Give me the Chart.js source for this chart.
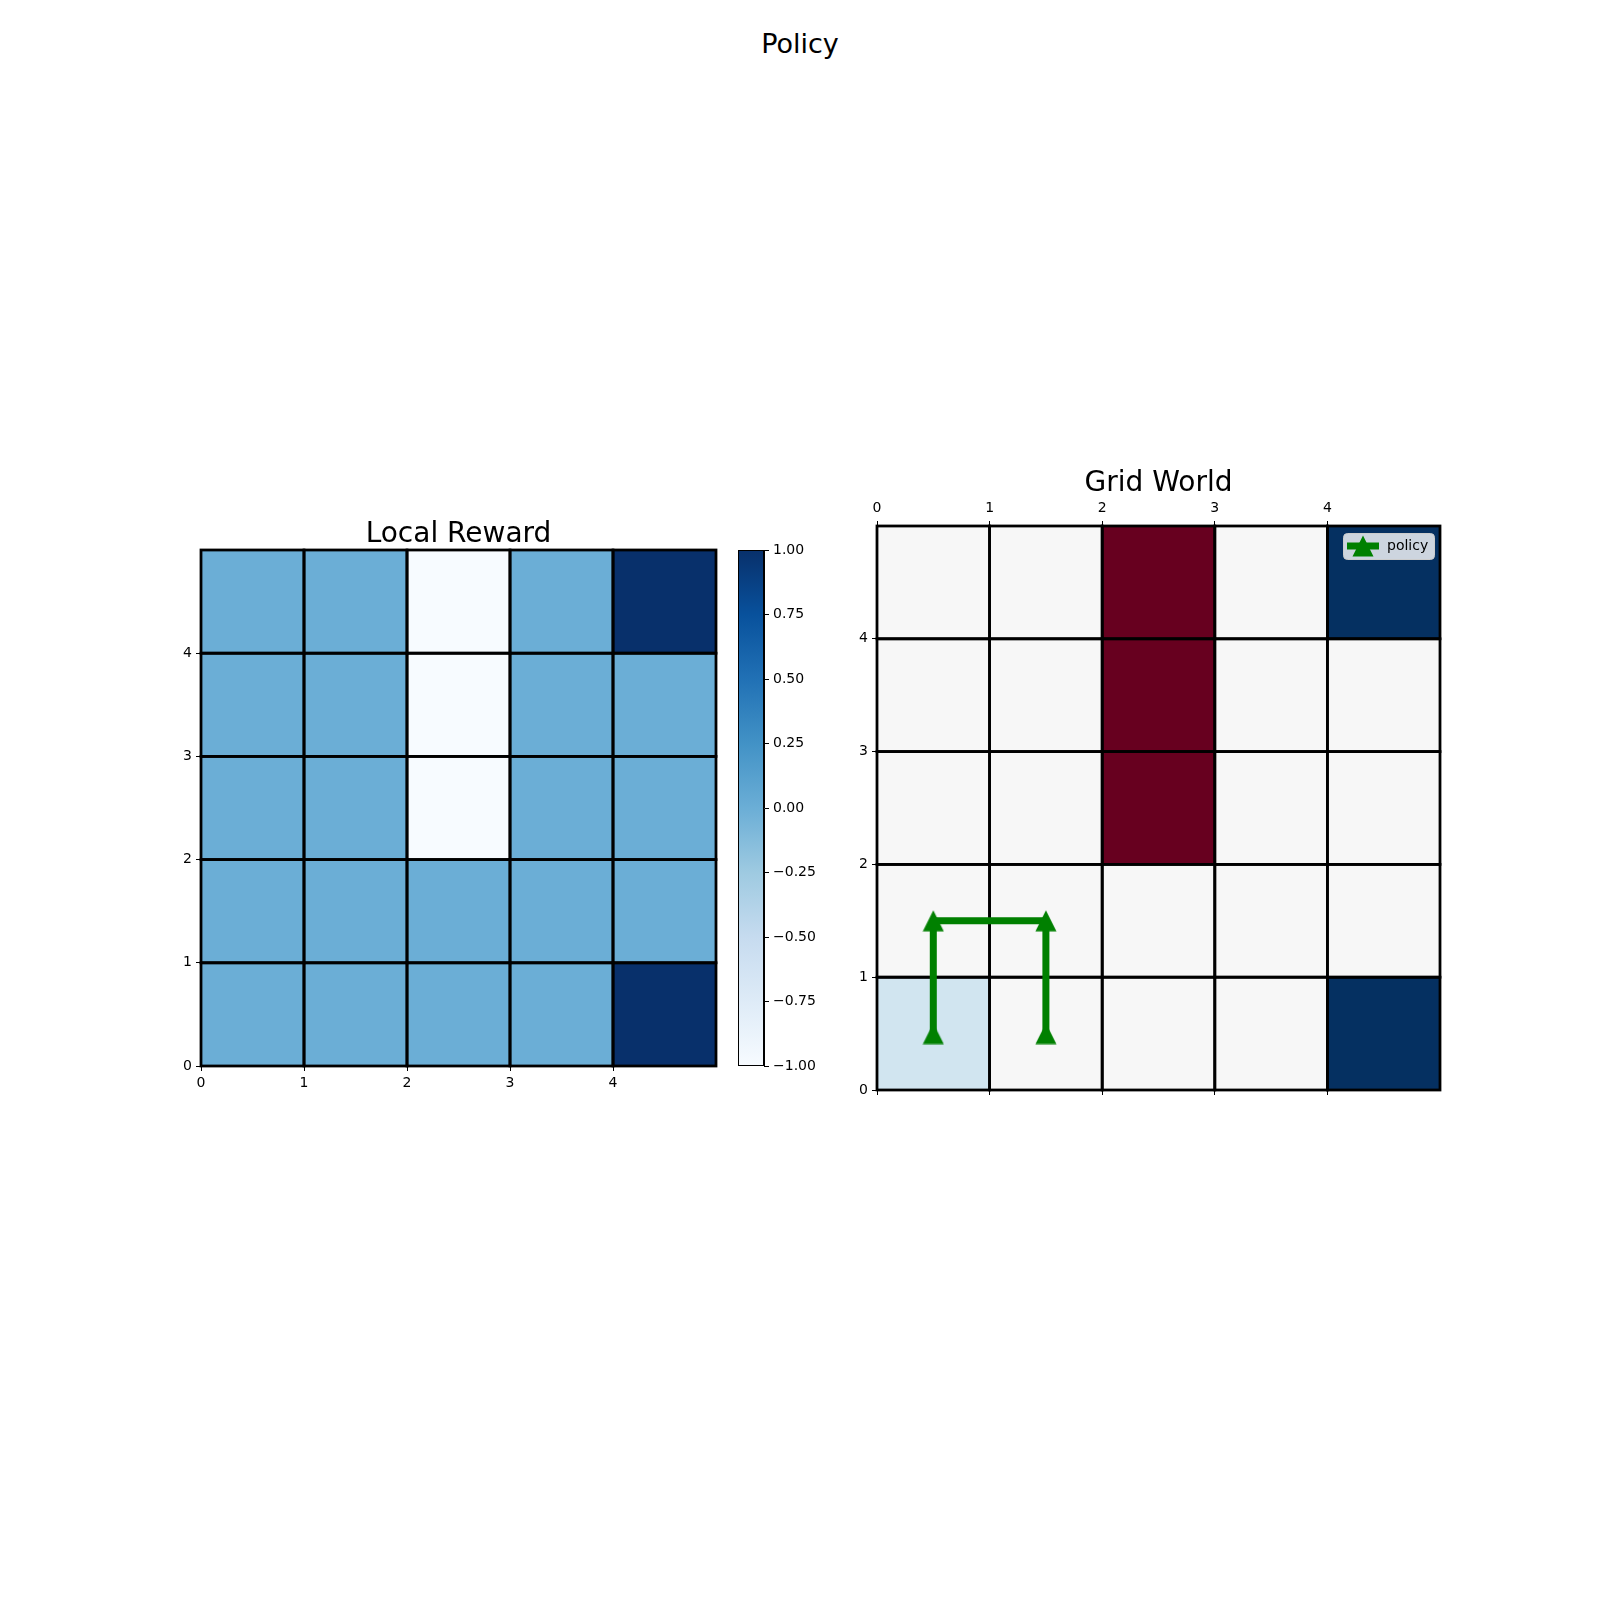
<!DOCTYPE html>
<html><head><meta charset="utf-8">
<script src="https://cdn.jsdelivr.net/npm/chart.js@4"></script>
<style>
html,body{margin:0;padding:0;background:#fff;}
#wrap{position:relative;width:1600px;height:1600px;overflow:hidden;background:#fff;}
canvas{position:absolute;left:0;top:0;}
#suptitle{position:absolute;left:0;top:30px;width:1600px;height:28px;line-height:28px;text-align:center;font-family:'DejaVu Sans';font-size:27px;color:#000;}
</style></head><body>
<div id="wrap">
<div id="suptitle">Policy</div>
<canvas id="c1" width="1600" height="1600"></canvas>
<canvas id="c2" width="1600" height="1600"></canvas>
<canvas id="c3" width="1600" height="1600"></canvas>
</div>
<script>
// ---- data ----
const cellCols = [0, 1, 2, 3, 4];
const cellRows = [0, 1, 2, 3, 4];           // row 0 = bottom
const localReward = [                       // localReward[row][col]
  [0, 0, 0, 0, 1],
  [0, 0, 0, 0, 0],
  [0, 0, -1, 0, 0],
  [0, 0, -1, 0, 0],
  [0, 0, -1, 0, 1]
];
const gridWorld = [                         // gridWorld[row][col]
  [0.2, 0, 0, 0, 1],
  [0, 0, 0, 0, 0],
  [0, 0, -1, 0, 0],
  [0, 0, -1, 0, 0],
  [0, 0, -1, 0, 1]
];
const policyX = [0.5, 0.5, 1.5, 1.5];
const policyY = [0.5, 1.5, 1.5, 0.5];
const policyLabel = 'policy';
const gridTicks = [0, 1, 2, 3, 4];
const colorbarTicks = [-1, -0.75, -0.5, -0.25, 0, 0.25, 0.5, 0.75, 1];
const valueMin = -1, valueMax = 1;

// ---- colormaps ----
const BLUES = ['#f7fbff','#deebf7','#c6dbef','#9ecae1','#6baed6','#4292c6','#2171b5','#08519c','#08306b'];
const RDBU = ['#67001f','#b2182b','#d6604d','#f4a582','#fddbc7','#f7f7f7','#d1e5f0','#92c5de','#4393c3','#2166ac','#053061'];
function hex2rgb(h){return [parseInt(h.slice(1,3),16),parseInt(h.slice(3,5),16),parseInt(h.slice(5,7),16)];}
function cmap(stops, v){
  let t = (v - valueMin) / (valueMax - valueMin);
  t = Math.max(0, Math.min(1, t));
  const n = stops.length - 1;
  const i = Math.min(n - 1, Math.floor(t * n));
  const f = t * n - i;
  const a = hex2rgb(stops[i]), b = hex2rgb(stops[i+1]);
  const c = a.map((x,k)=>Math.round(x + (b[k]-x)*f));
  return 'rgb(' + c.join(',') + ')';
}

Chart.defaults.font.family = 'DejaVu Sans';
Chart.defaults.font.size = 14;
Chart.defaults.color = '#000';

function heatmapPlugin(values, stops){
  return {
    id: 'heatmap',
    beforeDatasetsDraw(chart){
      const ctx = chart.ctx, xs = chart.scales.x, ys = chart.scales.y;
      ctx.save();
      cellRows.forEach((r, ri) => {
        cellCols.forEach((c, ci) => {
          const x0 = xs.getPixelForValue(c), x1 = xs.getPixelForValue(c + 1);
          const y0 = ys.getPixelForValue(r + 1), y1 = ys.getPixelForValue(r);
          ctx.fillStyle = cmap(stops, values[ri][ci]);
          ctx.fillRect(x0, y0, x1 - x0, y1 - y0);
        });
      });
      ctx.strokeStyle = '#000';
      ctx.lineWidth = 2.78;
      cellRows.forEach((r) => {
        cellCols.forEach((c) => {
          const x0 = xs.getPixelForValue(c), x1 = xs.getPixelForValue(c + 1);
          const y0 = ys.getPixelForValue(r + 1), y1 = ys.getPixelForValue(r);
          ctx.strokeRect(x0, y0, x1 - x0, y1 - y0);
        });
      });
      ctx.restore();
    }
  };
}

function gridAxis(position, size, showLabels){
  const horizontal = position === 'top' || position === 'bottom';
  return {
    type: 'linear', position: position, min: 0, max: 5,
    afterBuildTicks: s => { s.ticks = gridTicks.map(v => ({value: v})); },
    afterFit: s => { if (horizontal) s.height = size; else s.width = size; },
    grid: {drawOnChartArea: false, color: '#000', tickLength: 5, lineWidth: 1},
    border: {color: '#000', width: 1},
    ticks: {color: '#000', padding: 4, maxRotation: 0, autoSkip: false,
            callback: v => showLabels ? String(v) : ''}
  };
}

const baseOpts = {responsive: false, animation: false, devicePixelRatio: 1, events: []};

// ---- left: Local Reward ----
new Chart(document.getElementById('c1'), {
  type: 'scatter',
  data: {datasets: [{data: []}]},
  options: Object.assign({}, baseOpts, {
    layout: {padding: {left: 171, right: 884, top: 521, bottom: 504}},
    plugins: {
      legend: {display: false}, tooltip: {enabled: false},
      title: {display: true, text: 'Local Reward', fullSize: false, color: '#000',
              font: {size: 28, lineHeight: 1, weight: 'normal'}, padding: {top: 0, bottom: 1}}
    },
    scales: {x: gridAxis('bottom', 30, true), y: gridAxis('left', 30, true)}
  }),
  plugins: [heatmapPlugin(localReward, BLUES)]
});

// ---- colorbar ----
new Chart(document.getElementById('c2'), {
  type: 'scatter',
  data: {datasets: [{data: []}]},
  options: Object.assign({}, baseOpts, {
    layout: {padding: {left: 738, right: 756, top: 550, bottom: 534}},
    plugins: {legend: {display: false}, tooltip: {enabled: false}},
    scales: {
      x: {display: false, min: 0, max: 1},
      y: {type: 'linear', position: 'right', min: valueMin, max: valueMax,
          afterBuildTicks: s => { s.ticks = colorbarTicks.map(v => ({value: v})); },
          afterFit: s => { s.width = 80; },
          grid: {drawOnChartArea: false, color: '#000', tickLength: 5},
          border: {color: '#000', width: 1},
          ticks: {color: '#000', padding: 4, autoSkip: false,
                  callback: v => Number(v).toFixed(2).replace('-', '\u2212')}}
    }
  }),
  plugins: [{
    id: 'cbar',
    beforeDatasetsDraw(chart){
      const ctx = chart.ctx, a = chart.chartArea, ys = chart.scales.y;
      const g = ctx.createLinearGradient(0, ys.getPixelForValue(valueMin), 0, ys.getPixelForValue(valueMax));
      BLUES.forEach((c, i) => g.addColorStop(i / (BLUES.length - 1), c));
      ctx.save();
      ctx.fillStyle = g;
      ctx.fillRect(a.left, a.top, a.right - a.left, a.bottom - a.top);
      ctx.strokeStyle = '#000'; ctx.lineWidth = 1;
      ctx.strokeRect(a.left + 0.5, a.top + 0.5, a.right - a.left - 1, a.bottom - a.top - 1);
      ctx.restore();
    }
  }]
});

// ---- right: Grid World ----
function makeTriangle(size, color){
  const cv = document.createElement('canvas');
  cv.width = size; cv.height = size;
  const x = cv.getContext('2d');
  x.fillStyle = color;
  x.beginPath();
  x.moveTo(size / 2, 0.5); x.lineTo(size - 0.5, size - 0.5); x.lineTo(0.5, size - 0.5);
  x.closePath(); x.fill();
  return cv;
}
const tri = makeTriangle(22, '#008000');

new Chart(document.getElementById('c3'), {
  type: 'scatter',
  data: {datasets: [{
    label: policyLabel,
    data: policyX.map((x, i) => ({x: x, y: policyY[i]})),
    showLine: true, borderColor: '#008000', backgroundColor: '#008000',
    borderWidth: 7, borderCapStyle: 'butt', borderJoinStyle: 'round',
    pointStyle: tri, pointRadius: 11, tension: 0, clip: false
  }]},
  options: Object.assign({}, baseOpts, {
    layout: {padding: {left: 847, right: 160, top: 470, bottom: 500}},
    plugins: {
      legend: {display: false}, tooltip: {enabled: false},
      title: {display: true, text: 'Grid World', fullSize: false, color: '#000',
              font: {size: 28, lineHeight: 1, weight: 'normal'}, padding: {top: 0, bottom: 0}}
    },
    scales: {
      x: gridAxis('top', 28, true),
      y: gridAxis('left', 30, true),
      x2: gridAxis('bottom', 10, false)
    }
  }),
  plugins: [heatmapPlugin(gridWorld, RDBU), {
    id: 'mplLegend',
    afterDraw(chart){
      const ctx = chart.ctx, a = chart.chartArea, ds = chart.data.datasets[0];
      const w = 91, h = 26;
      const x0 = a.right - 6 - w, y0 = a.top + 7;
      ctx.save();
      ctx.beginPath();
      if (ctx.roundRect) ctx.roundRect(x0 + 0.5, y0 + 0.5, w, h, 4); else ctx.rect(x0 + 0.5, y0 + 0.5, w, h);
      ctx.fillStyle = 'rgba(255,255,255,0.8)';
      ctx.fill();
      ctx.strokeStyle = '#cccccc'; ctx.lineWidth = 1;
      ctx.stroke();
      const cy = y0 + h / 2;
      ctx.strokeStyle = ds.borderColor; ctx.lineWidth = ds.borderWidth; ctx.lineCap = 'butt';
      ctx.beginPath(); ctx.moveTo(x0 + 4, cy); ctx.lineTo(x0 + 36, cy); ctx.stroke();
      ctx.drawImage(tri, x0 + 20 - 11, cy - 11, 22, 22);
      ctx.fillStyle = '#000';
      ctx.font = '14px "DejaVu Sans"';
      ctx.textBaseline = 'middle'; ctx.textAlign = 'left';
      ctx.fillText(ds.label, x0 + 44, cy);
      ctx.restore();
    }
  }]
});
</script>
</body></html>
